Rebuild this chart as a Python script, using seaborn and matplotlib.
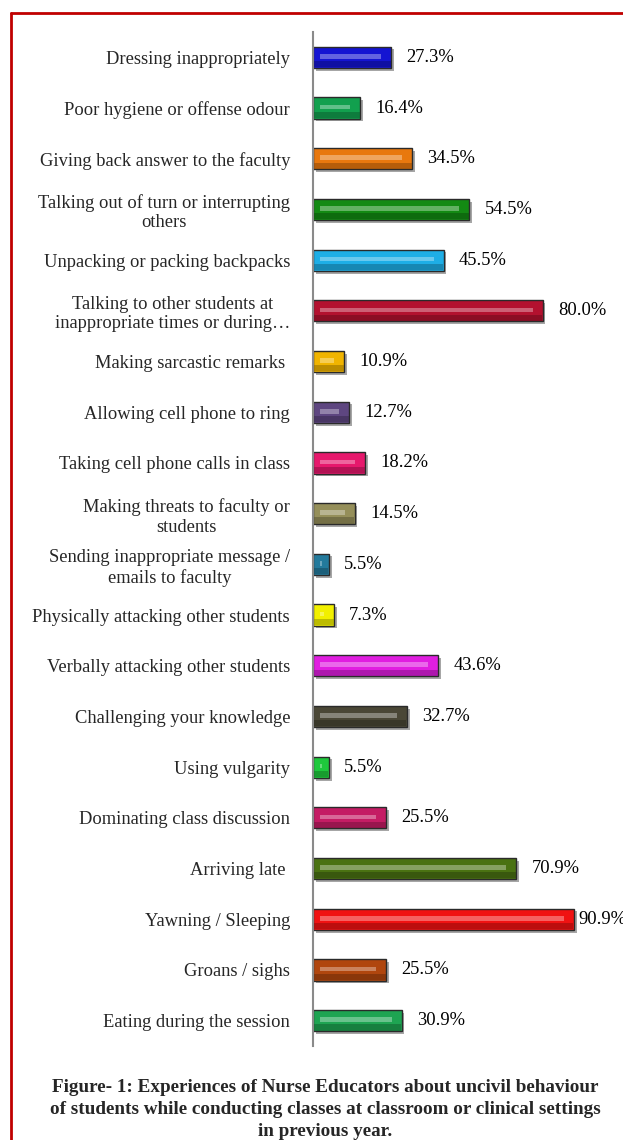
import matplotlib
matplotlib.use("Agg")
import matplotlib.pyplot as plt
import matplotlib.patheffects as pe
from matplotlib.lines import Line2D
import matplotlib.colors as mcolors
import seaborn as sns
import pandas as pd

categories = [
    "Dressing inappropriately",
    "Poor hygiene or offense odour",
    "Giving back answer to the faculty",
    "Talking out of turn or interrupting\nothers",
    "Unpacking or packing backpacks",
    "Talking to other students at\ninappropriate times or during\u2026",
    "Making sarcastic remarks ",
    "Allowing cell phone to ring",
    "Taking cell phone calls in class",
    "Making threats to faculty or\nstudents",
    "Sending inappropriate message /\nemails to faculty",
    "Physically attacking other students",
    "Verbally attacking other students",
    "Challenging your knowledge",
    "Using vulgarity",
    "Dominating class discussion",
    "Arriving late ",
    "Yawning / Sleeping",
    "Groans / sighs",
    "Eating during the session",
]
values = [27.3, 16.4, 34.5, 54.5, 45.5, 80.0, 10.9, 12.7, 18.2, 14.5,
          5.5, 7.3, 43.6, 32.7, 5.5, 25.5, 70.9, 90.9, 25.5, 30.9]
bar_colors = ["#1414d2", "#12a04e", "#e8780e", "#138a13", "#1eaee6",
              "#b3112f", "#f0b400", "#5e4680", "#e6186c", "#958f5a",
              "#237a9c", "#f2f000", "#e01ee0", "#4a4736", "#1ec83c",
              "#c41c64", "#4a7212", "#f01212", "#b0460e", "#1ea452"]
caption_lines = [
    "Figure- 1: Experiences of Nurse Educators about uncivil behaviour",
    "of students while conducting classes at classroom or clinical settings",
    "in previous year.",
]

serif = ["Liberation Serif", "DejaVu Serif"]
sns.set_theme(style="white")
plt.rcParams["font.family"] = serif

df = pd.DataFrame({"behaviour": categories, "pct": values})

fig = plt.figure(figsize=(6.23, 11.40), dpi=100)
ax = fig.add_axes([313 / 623, 1 - 1046 / 1140, 287 / 623, (1046 - 32) / 1140])

sns.barplot(data=df, y="behaviour", x="pct", hue="behaviour",
            palette=bar_colors, legend=False, orient="h", width=0.42,
            edgecolor="#2a2a2a", linewidth=1.0, saturation=1, ax=ax)

for p in ax.patches:
    p.set_path_effects([pe.SimplePatchShadow(offset=(2.0, -2.0), shadow_rgbFace="#808080", alpha=0.7),
                        pe.Normal()])

# gloss: darker lower band and lighter highlight stripe
for i, (v, c) in enumerate(zip(values, bar_colors)):
    rgb = mcolors.to_rgb(c)
    light = tuple(min(1, x + (1 - x) * 0.45) for x in rgb)
    dark = tuple(x * 0.6 for x in rgb)
    ax.barh(i + 0.135, v - 0.35, left=0.2, height=0.12, color=dark, alpha=0.55,
            linewidth=0, zorder=3)
    start = 2.5
    length = max(v - 6.0, 0.6)
    ax.barh(i - 0.02, length, left=start, height=0.09, color=light, alpha=0.75,
            linewidth=0, zorder=3)

for i, v in enumerate(values):
    off = 3 if v > 85 else 11
    ax.annotate(f"{v:.1f}%", xy=(v, i), xytext=(off, 0), textcoords="offset points",
                ha="left", va="center", fontsize=13.3, color="black", family=serif,
                annotation_clip=False)

ax.set_xlim(0, 100)
ax.set_ylim(len(categories) - 0.5, -0.5)
ax.set_xlabel("")
ax.set_ylabel("")
ax.set_xticks([])
ax.tick_params(axis="y", length=0, pad=16.5, labelsize=13.3)
for lab in ax.get_yticklabels():
    lab.set_multialignment("center")
    lab.set_family(serif)
for s in ["top", "right", "bottom"]:
    ax.spines[s].set_visible(False)
ax.spines["left"].set_color("#8a8a8a")
ax.spines["left"].set_linewidth(1.5)
ax.set_facecolor("white")

# page border (red frame)
fig.add_artist(Line2D([10.5 / 623, 1.02], [1 - 12.5 / 1140, 1 - 12.5 / 1140],
                      transform=fig.transFigure, color="#c00000", linewidth=2.0))
fig.add_artist(Line2D([10.5 / 623, 10.5 / 623], [1 - 12.5 / 1140, -0.02],
                      transform=fig.transFigure, color="#c00000", linewidth=2.0))

# fragment of preceding text line
fig.text(163 / 623, 1 + 8 / 1140, "p", ha="left", va="center", fontsize=13.3, family=serif)

ys = [1087, 1109, 1132]
for y, line in zip(ys, caption_lines):
    fig.text(325 / 623, 1 - y / 1140, line, ha="center", va="center", fontsize=13.8,
             fontweight="bold", family=serif)

fig.savefig("out.png", dpi=100, facecolor="white")
